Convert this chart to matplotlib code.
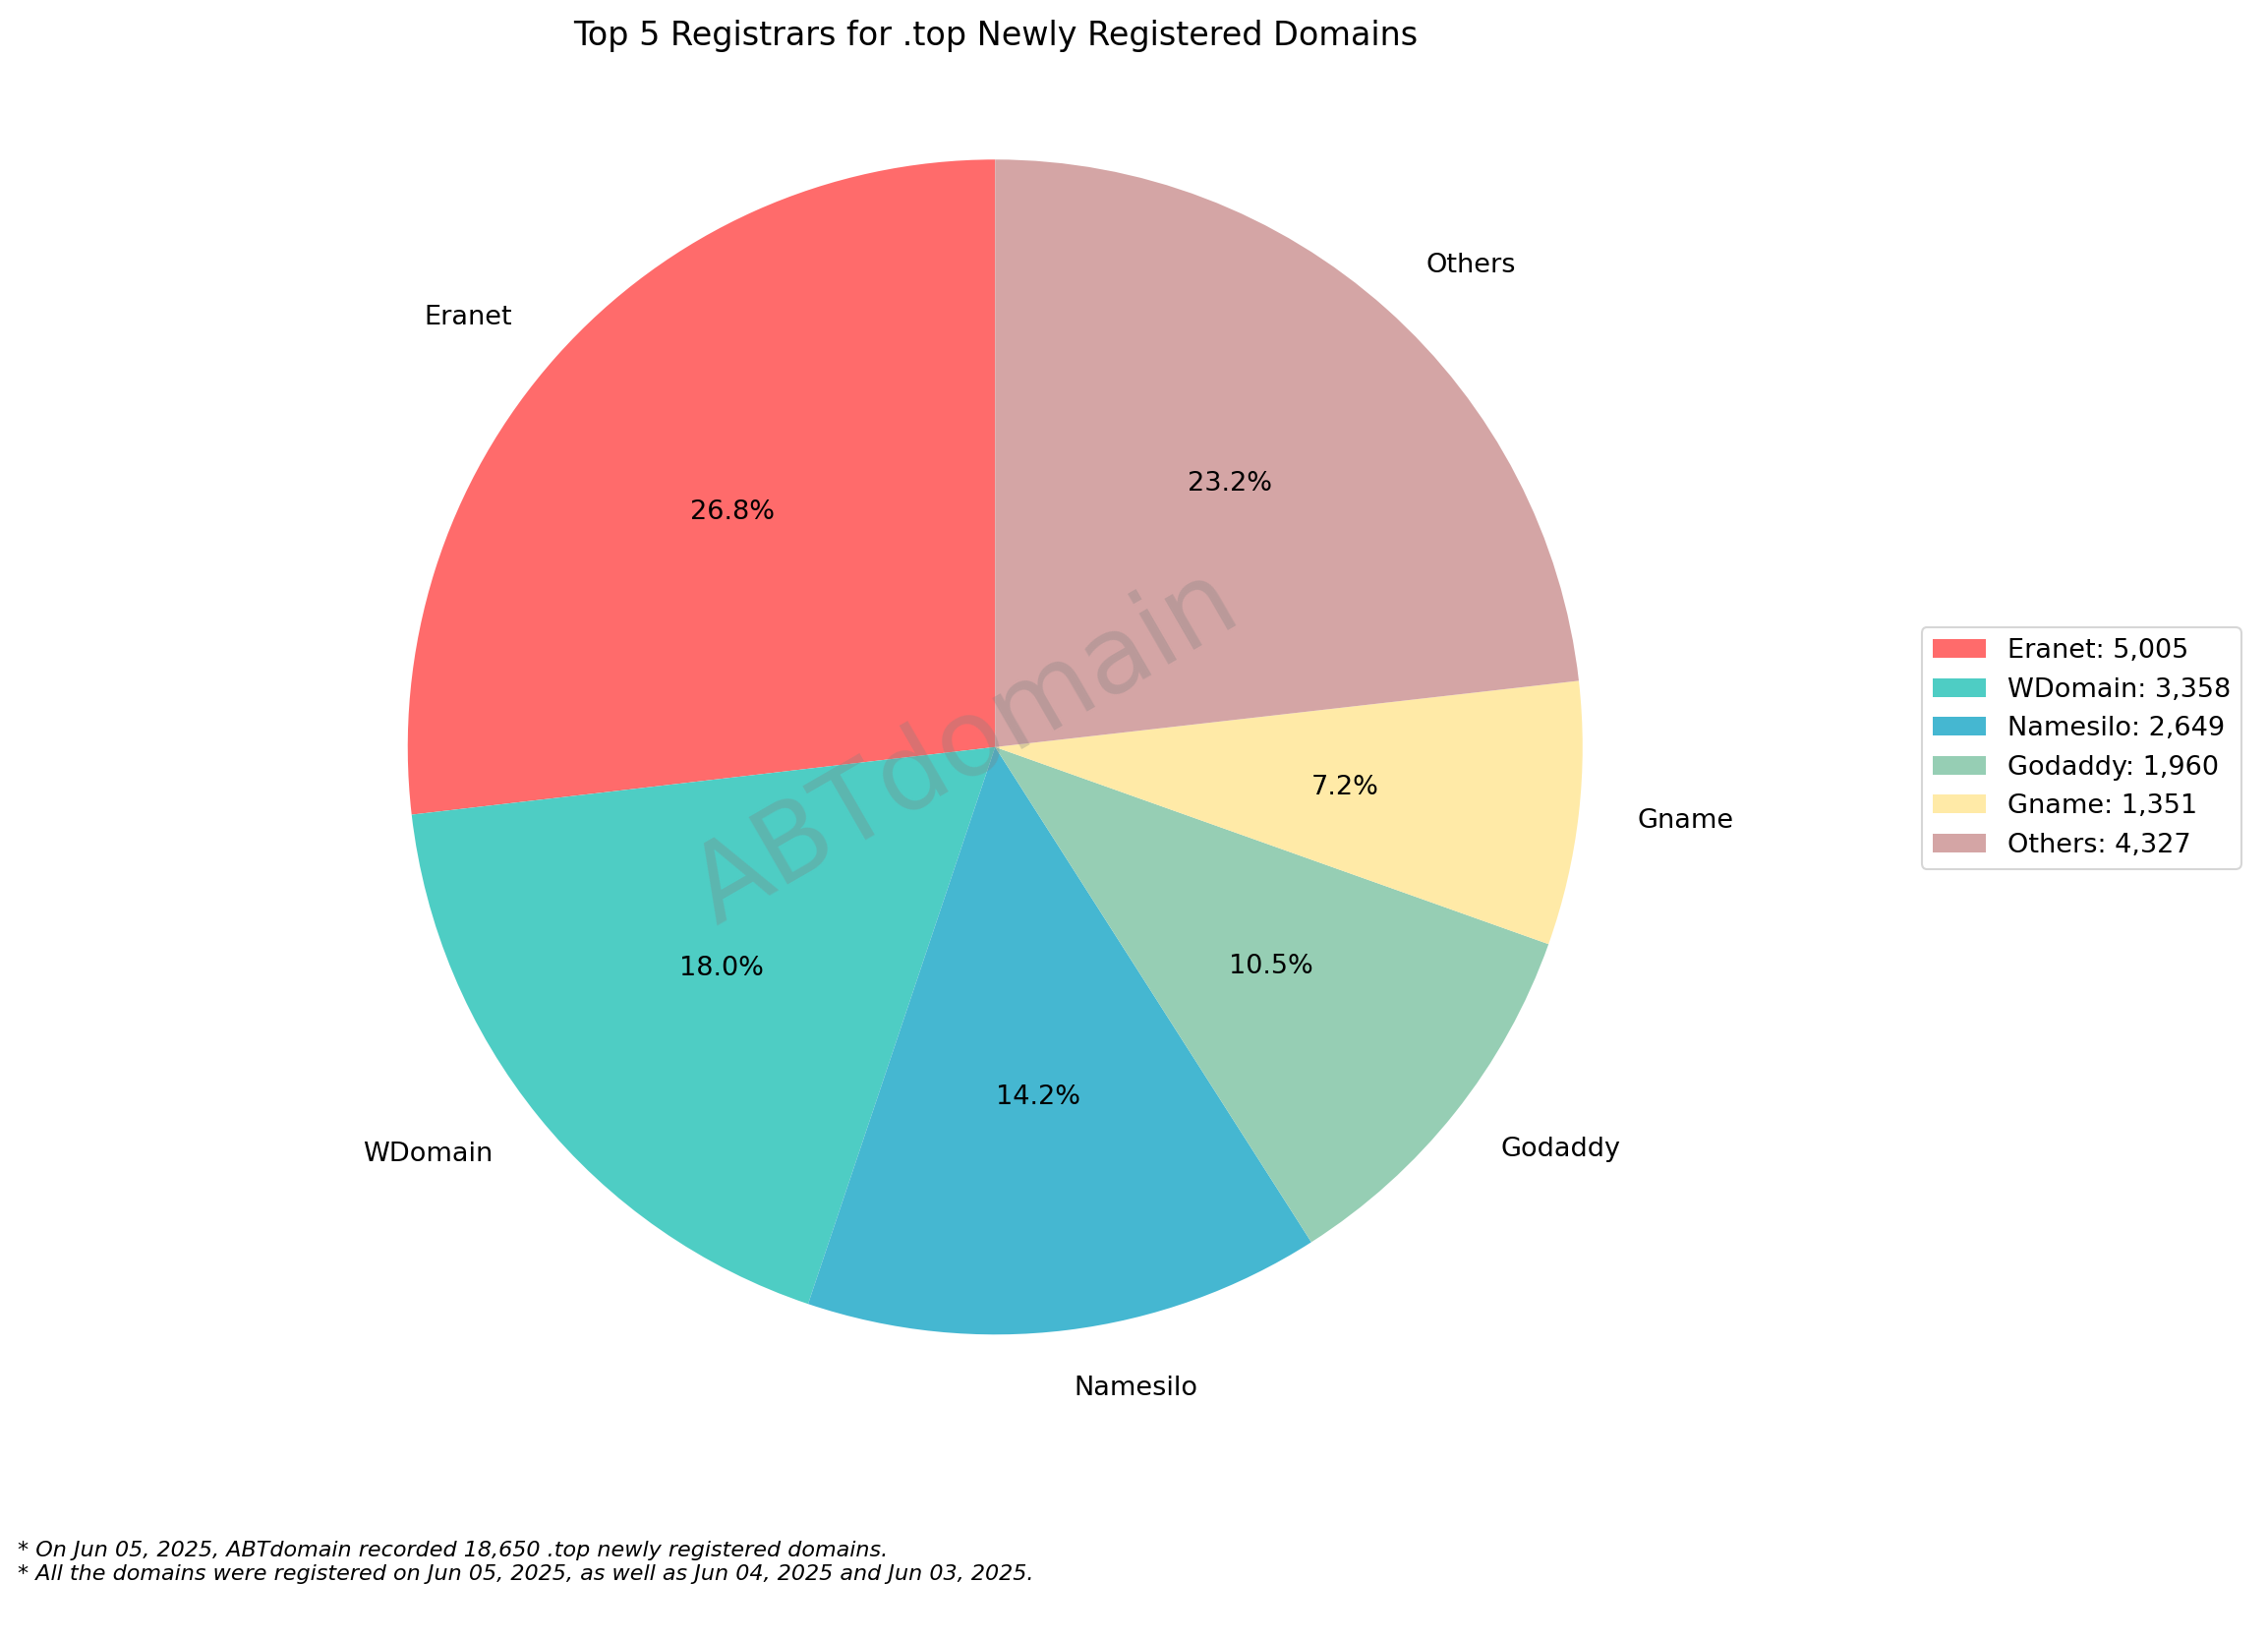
import matplotlib
matplotlib.use("Agg")
import matplotlib.pyplot as plt

labels = ["Eranet", "WDomain", "Namesilo", "Godaddy", "Gname", "Others"]
values = [5005, 3358, 2649, 1960, 1351, 4327]
colors = ["#FF6B6B", "#4ECDC4", "#45B7D1", "#96CEB4", "#FFEAA7", "#D4A5A5"]

fig = plt.figure(figsize=(2307/150, 1669/150), dpi=150)
cx, cy = 684.5/1560, 1-513.5/1128
w, h = 0.518*1.2, 0.717*1.2
ax = fig.add_axes([cx-w/2, cy-h/2, w, h])
wedges, texts, autotexts = ax.pie(values, labels=labels, colors=colors, startangle=90,
                                  autopct="%1.1f%%", textprops={"fontsize": 13})
ax.set_xlim(-1.2, 1.2); ax.set_ylim(-1.2, 1.2); ax.set_aspect("equal")
ax.text(-0.05, 0.0, "ABTdomain", fontsize=52, color="gray", alpha=0.3, rotation=30,
        ha="center", va="center")
fig.text(cx, 0.978, "Top 5 Registrars for .top Newly Registered Domains",
         ha="center", va="center", fontsize=16)
fig.legend(wedges, [f"{l}: {v:,}" for l, v in zip(labels, values)],
           loc="center left", bbox_to_anchor=(0.8415, 0.544), fontsize=13)
fig.text(0.008, 0.055, "* On Jun 05, 2025, ABTdomain recorded 18,650 .top newly registered domains.",
         fontsize=10.7, style="italic", va="center")
fig.text(0.008, 0.041, "* All the domains were registered on Jun 05, 2025, as well as Jun 04, 2025 and Jun 03, 2025.",
         fontsize=10.7, style="italic", va="center")
fig.savefig("out.png", dpi=150)
